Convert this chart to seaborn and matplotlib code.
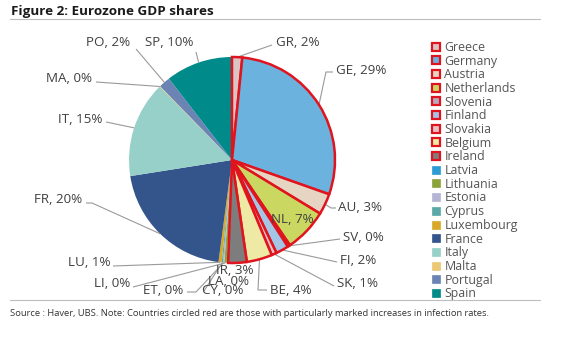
import matplotlib
matplotlib.use("Agg")
import matplotlib.pyplot as plt
from matplotlib.lines import Line2D
import numpy as np
import seaborn as sns

countries = ["Greece", "Germany", "Austria", "Netherlands", "Slovenia", "Finland",
             "Slovakia", "Belgium", "Ireland", "Latvia", "Lithuania", "Estonia",
             "Cyprus", "Luxembourg", "France", "Italy", "Malta", "Portugal", "Spain"]
codes = ["GR", "GE", "AU", "NL", "SV", "FI", "SK", "BE", "IR", "LA", "LI", "ET",
         "CY", "LU", "FR", "IT", "MA", "PO", "SP"]
shares = [1.6, 28.8, 3.3, 6.8, 0.4, 2.0, 0.8, 4.0, 2.9, 0.2, 0.4, 0.2, 0.2, 0.5,
          20.4, 15.1, 0.1, 1.8, 10.5]
shown_pct = [2, 29, 3, 7, 0, 2, 1, 4, 3, 0, 0, 0, 0, 1, 20, 15, 0, 2, 10]
circled = [True] * 9 + [False] * 10
colors = ["#dcc4c4", "#6cb2de", "#e6d5c3", "#cad862", "#b8a8bc", "#a4c6e6",
          "#e8c0c8", "#eeeaa6", "#7d7d7d", "#2e9bd4", "#8ca33a", "#b4b4d4",
          "#5aa9a6", "#d8a828", "#34558c", "#96d0c8", "#eac874", "#6c84b4", "#008a8a"]

RED = "#e0141e"
W, H = 563, 345
CX, CY, R = 232, 160, 103

sns.set_theme(style="white")
plt.rcParams["font.family"] = ["Open Sans", "DejaVu Sans"]

fig = plt.figure(figsize=(W / 100, H / 100), dpi=100)
ax = fig.add_axes([0, 0, 1, 1])


def px(x, y):
    return (x - CX) / R, (CY - y) / R


wedges, _ = ax.pie(shares, colors=colors, startangle=90, counterclock=False,
                   radius=1.0, wedgeprops=dict(linewidth=0))
for w, c in zip(wedges, circled):
    if c:
        w.set_edgecolor(RED)
        w.set_linewidth(1.8)
        w.set_zorder(3)

ax.set_xlim(-CX / R, (W - CX) / R)
ax.set_ylim((CY - H) / R, CY / R)
ax.set_aspect("auto")
ax.axis("off")

labels = {
    "GR": ((276, 42), "left", [(272, 45)]),
    "GE": ((336, 70), "left", [(326, 72), (333, 72)]),
    "AU": ((338, 208), "left", [(331, 208), (336, 208)]),
    "NL": ((292, 220), "center", None),
    "SV": ((343, 238), "left", [(340, 239)]),
    "FI": ((340, 260), "left", [(337, 262)]),
    "SK": ((337, 284), "left", [(334, 286)]),
    "BE": ((270, 290), "left", [(258, 290), (267, 290)]),
    "IR": ((235, 270), "center", None),
    "LA": ((229, 282), "center", None),
    "CY": ((202, 290), "left", [(204, 291)]),
    "ET": ((143, 290), "left", [(196, 292), (187, 292)]),
    "LI": ((130, 284), "right", [(133, 287)]),
    "LU": ((110, 262), "right", [(113, 266)]),
    "FR": ((82, 200), "right", [(92, 203), (86, 203)]),
    "IT": ((102, 120), "right", [(106, 122)]),
    "MA": ((92, 78), "right", [(96, 82)]),
    "PO": ((130, 42), "right", [(136, 49)]),
    "SP": ((145, 42), "left", [(196, 52)]),
}

for w, code, pct in zip(wedges, codes, shown_pct):
    (tx, ty), ha, path = labels[code]
    if path:
        mid = np.deg2rad((w.theta1 + w.theta2) / 2)
        pts = [(np.cos(mid), np.sin(mid))] + [px(*p) for p in path]
        xs, ys = zip(*pts)
        ax.plot(xs, ys, color="#9a9a9a", lw=0.8, zorder=1, solid_capstyle="butt")
    x, y = px(tx, ty)
    ax.text(x, y, f"{code}, {pct}%", ha=ha, va="center", fontsize=9.6,
            color="#404040", zorder=5)

handles = []
for name, col, c in zip(countries, colors, circled):
    handles.append(Line2D([0], [0], marker="s", linestyle="none", markersize=6,
                          markerfacecolor=col,
                          markeredgecolor=RED if c else col,
                          markeredgewidth=1.6 if c else 0.5, label=name))
leg = fig.legend(handles=handles, loc="upper left",
                 bbox_to_anchor=(432 / W, 1 - 41 / H), frameon=False,
                 fontsize=8.9, handlelength=0.7, handletextpad=0.3,
                 labelspacing=0.055, borderpad=0, borderaxespad=0)
for t in leg.get_texts():
    t.set_color("#555555")

fig.text(11 / W, 1 - 11 / H, "Figure 2: Eurozone GDP shares", fontsize=9.7,
         fontweight="bold", color="#1a1a1a", va="center", ha="left")
fig.add_artist(Line2D([10 / W, 540 / W], [1 - 19 / H, 1 - 19 / H],
                      color="#bdbdbd", lw=0.8))
fig.add_artist(Line2D([10 / W, 540 / W], [1 - 300 / H, 1 - 300 / H],
                      color="#bdbdbd", lw=0.8))
fig.text(10 / W, 1 - 313 / H,
         "Source : Haver, UBS. Note: Countries circled red are those with particularly marked increases in infection rates.",
         fontsize=6.75, color="#333333", va="center", ha="left")

fig.savefig("out.png", dpi=100, facecolor="white")
